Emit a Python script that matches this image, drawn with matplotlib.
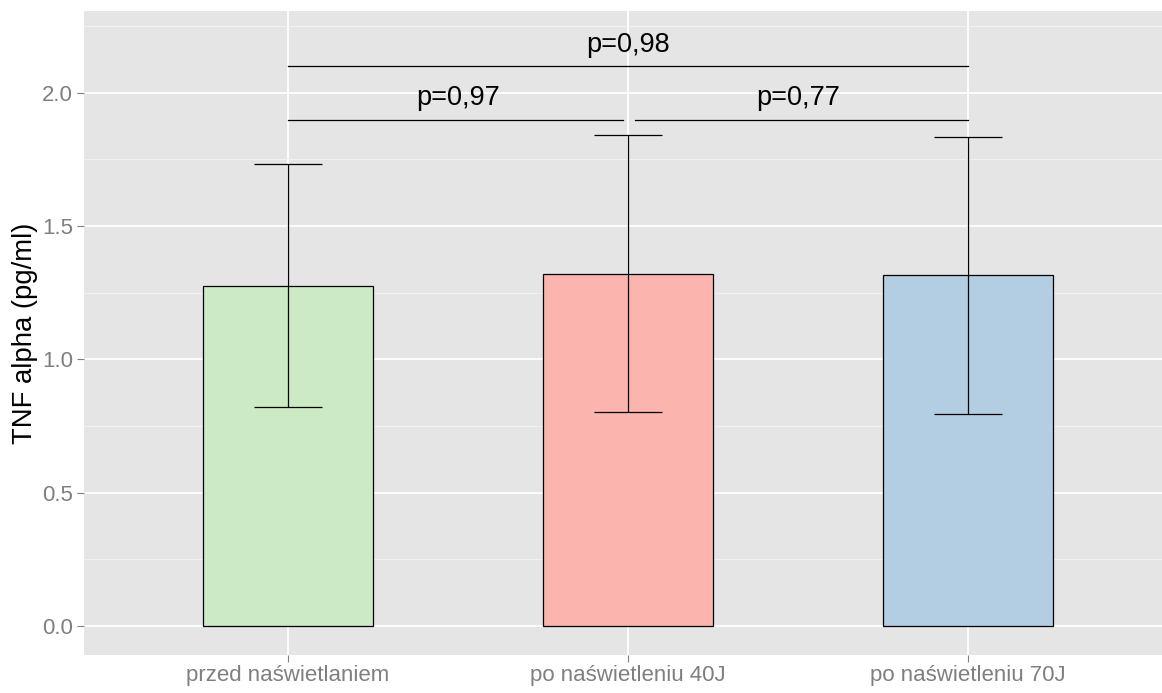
import matplotlib
matplotlib.use("Agg")
import matplotlib.pyplot as plt
from matplotlib.ticker import MultipleLocator

categories = ["przed naświetlaniem", "po naświetleniu 40J", "po naświetleniu 70J"]
means = [1.277, 1.322, 1.315]
sds = [0.457, 0.519, 0.521]
colors = ["#CCEBC5", "#FBB4AE", "#B3CDE3"]

# significance brackets: (x_start, x_end, y)
brackets = [
    (1, 1.985, 1.9),
    (2.02, 3, 1.9),
    (1, 3, 2.1),
]
labels_p = [(1.5, 1.98, "p=0,97"), (2.5, 1.98, "p=0,77"), (2.0, 2.178, "p=0,98")]

plt.rcParams['font.family'] = ['Liberation Sans', 'DejaVu Sans']

fig = plt.figure(figsize=(11.62, 6.93), dpi=100)
ax = fig.add_axes([84/1162, 38/693, 1 - 84/1162, (655-11)/693])
ax.set_facecolor("#E5E5E5")

x = list(range(1, len(categories) + 1))
ax.bar(x, means, width=0.5, color=colors, edgecolor="black", linewidth=0.9, zorder=3)
ax.errorbar(x, means, yerr=sds, fmt="none", ecolor="black", elinewidth=0.9,
            capsize=24.5, capthick=0.9, zorder=4)

for x0, x1, y in brackets:
    ax.plot([x0, x1], [y, y], color="black", linewidth=0.9, zorder=4)
for xt, yt, t in labels_p:
    ax.text(xt, yt, t, ha="center", va="center", fontsize=19.5, color="black", zorder=5)

ax.set_xlim(0.4, 3.57)
ax.set_ylim(-0.1086, 2.307)
ax.set_xticks(x)
ax.set_xticklabels(categories)
ax.yaxis.set_major_locator(MultipleLocator(0.5))
ax.yaxis.set_minor_locator(MultipleLocator(0.25))
ax.yaxis.set_major_formatter(matplotlib.ticker.FormatStrFormatter("%.1f"))

ax.grid(which="major", axis="both", color="white", linewidth=1.3, zorder=0)
ax.grid(which="minor", axis="y", color="#F2F2F2", linewidth=0.7, zorder=0)
ax.set_axisbelow(True)
for s in ax.spines.values():
    s.set_visible(False)

ax.tick_params(axis="both", which="major", colors="#7F7F7F", labelsize=16, length=5, width=0.8)
ax.tick_params(axis="x", pad=2)
ax.tick_params(axis="y", pad=3)
ax.tick_params(which="minor", length=0)
for lab in ax.get_xticklabels() + ax.get_yticklabels():
    lab.set_color("#7F7F7F")

ax.set_ylabel("TNF alpha (pg/ml)", fontsize=19.8, color="black", labelpad=3)

fig.savefig("out.png", dpi=100)
